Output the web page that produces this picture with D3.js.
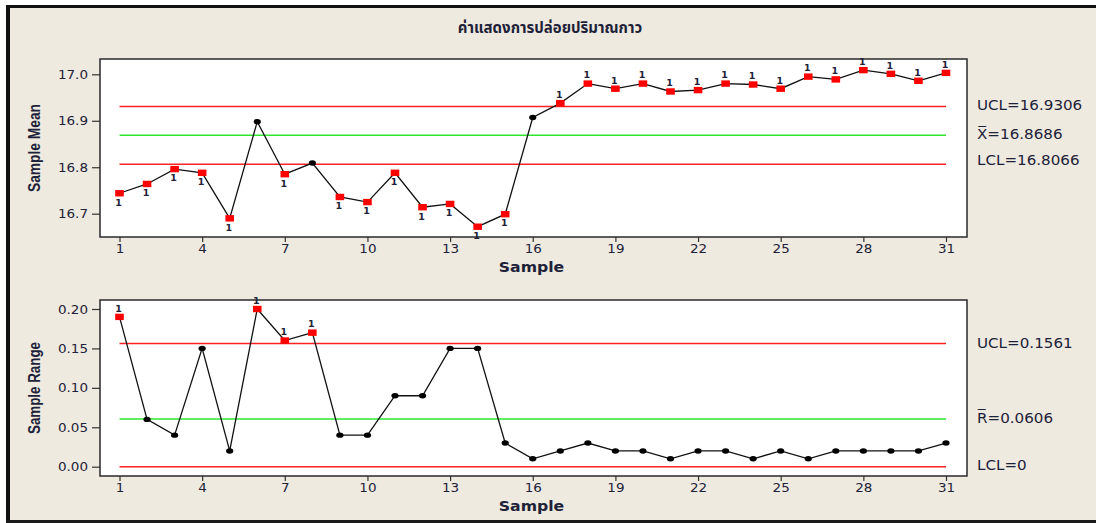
<!DOCTYPE html>
<html>
<head>
<meta charset="utf-8">
<script src="https://cdn.jsdelivr.net/npm/d3@7"></script>
<style>
  html, body { margin: 0; padding: 0; background: #fff; }
  svg { display: block; }
  text { font-family: "DejaVu Sans", Verdana, sans-serif; fill: #1e2238; }
</style>
</head>
<body>
<svg id="chart" width="1096" height="523"></svg>
<script>
// Xbar-R chart: adhesive output per sample
const chartTitle = "ค่าแสดงการปล่อยปริมาณกาว";
const samples = [1,2,3,4,5,6,7,8,9,10,11,12,13,14,15,16,17,18,19,20,21,22,23,24,25,26,27,28,29,30,31];
const sampleTicks = [1,4,7,10,13,16,19,22,25,28,31];

const meanValues = [16.744,16.764,16.796,16.788,16.690,16.898,16.785,16.809,16.736,16.725,
                    16.788,16.714,16.721,16.672,16.699,16.907,16.938,16.980,16.969,16.980,
                    16.963,16.966,16.980,16.978,16.969,16.995,16.989,17.009,17.001,16.986,17.003];
const rangeValues = [0.19,0.06,0.04,0.15,0.02,0.20,0.16,0.17,0.04,0.04,
                     0.09,0.09,0.15,0.15,0.03,0.01,0.02,0.03,0.02,0.02,
                     0.01,0.02,0.02,0.01,0.02,0.01,0.02,0.02,0.02,0.02,0.03];

const meanTicks = [16.7, 16.8, 16.9, 17.0];
const rangeTicks = [0.00, 0.05, 0.10, 0.15, 0.20];

const meanLimits = { ucl: 16.9306, center: 16.8686, lcl: 16.8066 };
const rangeLimits = { ucl: 0.1561, center: 0.0606, lcl: 0 };

const meanLimitLabels = ["UCL=16.9306", "X\u0305=16.8686", "LCL=16.8066"];
const rangeLimitLabels = ["UCL=0.1561", "R\u0305=0.0606", "LCL=0"];

const svg = d3.select("#chart");

// window background and border
svg.append("rect").attr("x", 6).attr("y", 5).attr("width", 1090).attr("height", 518).attr("fill", "#eeeae0");
svg.append("rect").attr("x", 6).attr("y", 5).attr("width", 1090).attr("height", 3).attr("fill", "#111");
svg.append("rect").attr("x", 6).attr("y", 5).attr("width", 4).attr("height", 518).attr("fill", "#111");
svg.append("rect").attr("x", 6).attr("y", 520).attr("width", 1090).attr("height", 3).attr("fill", "#1a1a1a");

svg.append("text")
  .attr("x", 550).attr("y", 28).attr("dy", "0.35em")
  .attr("text-anchor", "middle")
  .style("font-family", "Tahoma, 'Noto Sans Thai', 'Noto Sans', 'DejaVu Sans', sans-serif")
  .style("font-weight", "bold").style("font-size", "15px").attr("fill", "#151a30")
  .text(chartTitle);

const x = d3.scaleLinear().domain([1, 31]).range([119.5, 946]);

// stretch text horizontally like the wide UI font
function widen(sel, factor) {
  sel.each(function () {
    const w = this.getComputedTextLength();
    d3.select(this).attr("textLength", w * factor).attr("lengthAdjust", "spacingAndGlyphs");
  });
}

function drawPanel(cfg) {
  const g = svg.append("g");
  const { left, right, top, bottom } = cfg.frame;
  const y = d3.scaleLinear().domain(cfg.yDomain).range(cfg.yRange);

  g.append("rect").attr("x", left).attr("y", top)
    .attr("width", right - left).attr("height", bottom - top)
    .attr("fill", "#fff");

  // control limits
  const limits = [
    { v: cfg.limits.ucl, c: "#f22" },
    { v: cfg.limits.center, c: "#2ee82e" },
    { v: cfg.limits.lcl, c: "#f22" }
  ];
  g.selectAll("line.limit").data(limits).join("line")
    .attr("class", "limit")
    .attr("x1", x(1)).attr("x2", x(31))
    .attr("y1", d => y(d.v)).attr("y2", d => y(d.v))
    .attr("stroke", d => d.c).attr("stroke-width", 1.5);

  // axes
  const yAxis = d3.axisLeft(y).tickValues(cfg.yTicks).tickFormat(cfg.yFormat).tickSize(8).tickPadding(4);
  const ya = g.append("g").attr("transform", `translate(${left},0)`).call(yAxis);
  ya.select(".domain").remove();
  ya.selectAll("line").attr("stroke", "#333").attr("stroke-width", 1.2);
  ya.selectAll("text").style("font-size", "12.5px").attr("fill", "#1e2238")
    .style("font-family", "'DejaVu Sans', sans-serif").call(widen, 1.08);

  const xAxis = d3.axisBottom(x).tickValues(sampleTicks).tickFormat(d3.format("d")).tickSize(5).tickPadding(2);
  const xa = g.append("g").attr("transform", `translate(0,${bottom})`).call(xAxis);
  xa.select(".domain").remove();
  xa.selectAll("line").attr("stroke", "#333").attr("stroke-width", 1.2);
  xa.selectAll("text").style("font-size", "12.5px").attr("fill", "#1e2238")
    .style("font-family", "'DejaVu Sans', sans-serif").call(widen, 1.08);

  g.append("rect").attr("x", left).attr("y", top)
    .attr("width", right - left).attr("height", bottom - top)
    .attr("fill", "none").attr("stroke", "#2a2a2a").attr("stroke-width", 1.5);

  // axis titles
  g.append("text")
    .attr("x", (left + right) / 2 - 2).attr("y", cfg.xTitleY).attr("dy", "0.35em")
    .attr("text-anchor", "middle")
    .style("font-weight", "bold").style("font-size", "14px").attr("fill", "#1e2238")
    .text("Sample").call(widen, 1.12);

  g.append("text")
    .attr("transform", `translate(34,${(top + bottom) / 2}) rotate(-90)`)
    .attr("dy", "0.35em").attr("text-anchor", "middle")
    .style("font-family", "'Liberation Sans Narrow', 'Liberation Sans', Arial, sans-serif")
    .style("font-weight", "bold").style("font-size", "16px").attr("fill", "#000")
    .attr("textLength", cfg.yTitleLen).attr("lengthAdjust", "spacingAndGlyphs")
    .text(cfg.yTitle);

  // limit labels on the right
  const labelVals = [cfg.limits.ucl, cfg.limits.center, cfg.limits.lcl];
  g.selectAll("text.lim").data(cfg.limitLabels).join("text")
    .attr("class", "lim")
    .attr("x", 977).attr("y", (d, i) => y(labelVals[i]) + cfg.labelShift[i]).attr("dy", "0.35em")
    .style("font-size", "13.5px").attr("fill", "#1e2238")
    .text(d => d).call(widen, 1.12);

  // data line and points
  const pts = samples.map((s, i) => ({ s, v: cfg.values[i] }));
  const out = d => d.v > cfg.limits.ucl || d.v < cfg.limits.lcl;

  g.append("path").datum(pts)
    .attr("d", d3.line().x(d => x(d.s)).y(d => y(d.v)))
    .attr("fill", "none").attr("stroke", "#111").attr("stroke-width", 1.3);

  g.selectAll("ellipse.ok").data(pts.filter(d => !out(d))).join("ellipse")
    .attr("class", "ok")
    .attr("cx", d => x(d.s)).attr("cy", d => y(d.v))
    .attr("rx", 3.6).attr("ry", 2.7).attr("fill", "#000");

  g.selectAll("rect.bad").data(pts.filter(out)).join("rect")
    .attr("class", "bad")
    .attr("x", d => x(d.s) - 4.3).attr("y", d => y(d.v) - 3.2)
    .attr("width", 8.6).attr("height", 6.4).attr("fill", "#f00");

  g.selectAll("text.flag").data(pts.filter(out)).join("text")
    .attr("class", "flag")
    .attr("x", d => x(d.s) - 1)
    .attr("y", d => y(d.v) + (d.v > cfg.limits.ucl ? -8.5 : 9))
    .attr("dy", "0.35em").attr("text-anchor", "middle")
    .style("font-size", "9.5px").style("font-weight", "bold").attr("fill", "#2a3350")
    .text("1");
}

drawPanel({
  frame: { left: 100, right: 967, top: 59, bottom: 237 },
  yDomain: [16.7, 17.0], yRange: [213.7, 74.3],
  yTicks: meanTicks, yFormat: d3.format(".1f"),
  values: meanValues, limits: meanLimits, limitLabels: meanLimitLabels,
  labelShift: [-1.5, -1, -3.5],
  yTitle: "Sample Mean", yTitleLen: 88, xTitleY: 267
});

drawPanel({
  frame: { left: 100, right: 967, top: 300, bottom: 476 },
  yDomain: [0, 0.2], yRange: [466.7, 309],
  yTicks: rangeTicks, yFormat: d3.format(".2f"),
  values: rangeValues, limits: rangeLimits, limitLabels: rangeLimitLabels,
  labelShift: [0, -1, -1],
  yTitle: "Sample Range", yTitleLen: 92, xTitleY: 506
});
</script>
</body>
</html>
